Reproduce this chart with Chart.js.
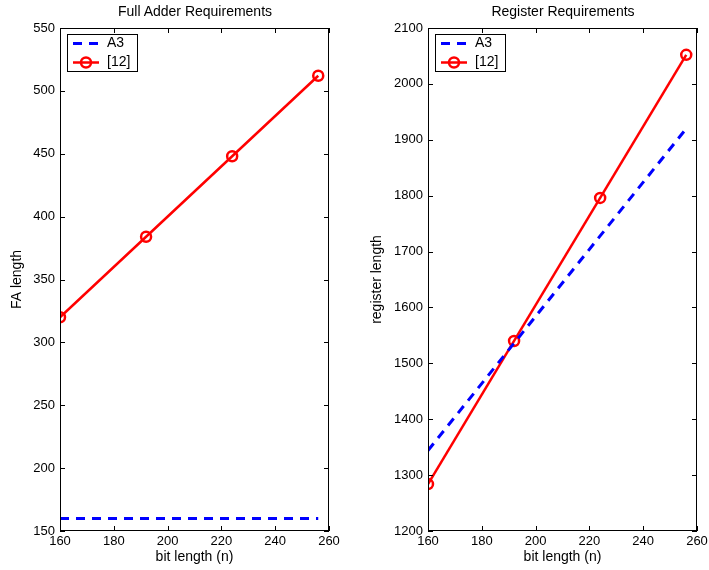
<!DOCTYPE html>
<html>
<head>
<meta charset="utf-8">
<script src="https://cdn.jsdelivr.net/npm/chart.js@4"></script>
<style>
  body { margin: 0; background: #fff; }
  .panel { position: absolute; top: 0; height: 570px; }
  #left  { left: 0;     width: 340px; }
  #right { left: 360px; width: 349px; }
  .ttl { position: absolute; top: 3px; font: 14px "Liberation Sans", Arial, sans-serif; color: #000; white-space: nowrap; transform: translateX(-50%); }
</style>
</head>
<body>
<div class="panel" id="left"><canvas id="faChart"></canvas></div>
<div class="panel" id="right"><canvas id="regChart"></canvas></div>
<div class="ttl" style="left:195px">Full Adder Requirements</div>
<div class="ttl" style="left:563px">Register Requirements</div>
<script>
// bit lengths on the x axis
const bitLengths = [160, 192, 224, 256];

// Full adder requirements
const faA3  = [160, 160, 160, 160];
const fa12  = [320, 384, 448, 512];

// Register requirements
const regA3 = [1344, 1536, 1728, 1920];
const reg12 = [1284, 1540, 1796, 2052];

const seriesNames = ["A3", "[12]"];

const FONT = "Liberation Sans, Arial, sans-serif";
const BLUE = "#0000ff";
const RED  = "#ff0000";

function pts(ys) {
  return bitLengths.map((x, i) => ({ x: x, y: ys[i] }));
}

// MATLAB style box: inward ticks on all four sides + legend box
const matlabBox = {
  id: "matlabBox",
  afterDraw(chart) {
    const ctx = chart.ctx;
    const a = chart.chartArea;
    const xs = chart.scales.x, ys = chart.scales.y;
    const tl = 5;
    ctx.save();
    ctx.strokeStyle = "#000";
    ctx.lineWidth = 1;
    ctx.strokeRect(a.left + 0.5, a.top + 0.5, a.right - a.left - 1, a.bottom - a.top - 1);
    ctx.beginPath();
    xs.ticks.forEach(t => {
      const px = Math.round(xs.getPixelForValue(t.value)) + 0.5;
      ctx.moveTo(px, a.bottom); ctx.lineTo(px, a.bottom - tl);
      ctx.moveTo(px, a.top);    ctx.lineTo(px, a.top + tl);
    });
    ys.ticks.forEach(t => {
      const py = Math.round(ys.getPixelForValue(t.value)) + 0.5;
      ctx.moveTo(a.left, py);  ctx.lineTo(a.left + tl, py);
      ctx.moveTo(a.right, py); ctx.lineTo(a.right - tl, py);
    });
    ctx.stroke();

    // legend
    const lx = a.left + 7, ly = a.top + 6, lw = 70, lh = 37;
    ctx.fillStyle = "#fff";
    ctx.fillRect(lx, ly, lw, lh);
    ctx.strokeRect(lx + 0.5, ly + 0.5, lw, lh);
    chart.data.datasets.forEach((ds, i) => {
      const y = ly + 9.5 + i * 19;
      ctx.strokeStyle = ds.borderColor;
      ctx.lineWidth = ds.borderWidth;
      ctx.setLineDash(ds.borderDash || []);
      ctx.beginPath();
      ctx.moveTo(lx + 6, y); ctx.lineTo(lx + 32, y);
      ctx.stroke();
      ctx.setLineDash([]);
      if (ds.pointRadius > 0) {
        ctx.lineWidth = ds.pointBorderWidth;
        ctx.beginPath();
        ctx.arc(lx + 19, y, ds.pointRadius, 0, Math.PI * 2);
        ctx.stroke();
      }
      ctx.fillStyle = "#000";
      ctx.font = "14px " + FONT;
      ctx.textBaseline = "middle";
      ctx.fillText(ds.label, lx + 40, y);
    });
    ctx.restore();
  }
};

function makeChart(id, a3, ref, yMin, yMax, yStep, yLabel, yWidth, rightPad) {
  return new Chart(document.getElementById(id), {
    type: "line",
    data: {
      datasets: [
        {
          label: seriesNames[0],
          data: pts(a3),
          borderColor: BLUE,
          borderWidth: 3,
          borderDash: [9, 7],
          pointRadius: 0,
          fill: false
        },
        {
          label: seriesNames[1],
          data: pts(ref),
          borderColor: RED,
          borderWidth: 2.5,
          pointRadius: 5,
          pointBorderWidth: 2.5,
          pointBorderColor: RED,
          pointBackgroundColor: "rgba(0,0,0,0)",
          fill: false
        }
      ]
    },
    options: {
      responsive: true,
      maintainAspectRatio: false,
      animation: false,
      layout: { padding: { top: 28, right: rightPad, bottom: 0, left: 0 } },
      plugins: {
        legend: { display: false },
        tooltip: { enabled: false }
      },
      scales: {
        x: {
          type: "linear",
          min: 160, max: 260,
          grid: { display: false, drawTicks: false },
          border: { display: false },
          ticks: { stepSize: 20, padding: 3, maxRotation: 0, color: "#000", font: { family: FONT, size: 13 },
                   callback: v => String(v) },
          title: { display: true, text: "bit length (n)", color: "#000", padding: { top: 0, bottom: 4 }, font: { family: FONT, size: 14 } },
          afterFit(s) { s.height = 39; s.paddingLeft = 0; s.paddingRight = 0; }
        },
        y: {
          min: yMin, max: yMax,
          grid: { display: false, drawTicks: false },
          border: { display: false },
          ticks: { stepSize: yStep, padding: 5, color: "#000", font: { family: FONT, size: 13 },
                   callback: v => String(v) },
          title: { display: true, text: yLabel, color: "#000", padding: { top: 9, bottom: 0 }, font: { family: FONT, size: 14 } },
          afterFit(s) { s.width = yWidth; s.paddingTop = 0; s.paddingBottom = 0; }
        }
      }
    },
    plugins: [matlabBox]
  });
}

makeChart("faChart",  faA3,  fa12,  150, 550,  50,  "FA length",       60, 11);
makeChart("regChart", regA3, reg12, 1200, 2100, 100, "register length", 68, 12);
</script>
</body>
</html>
